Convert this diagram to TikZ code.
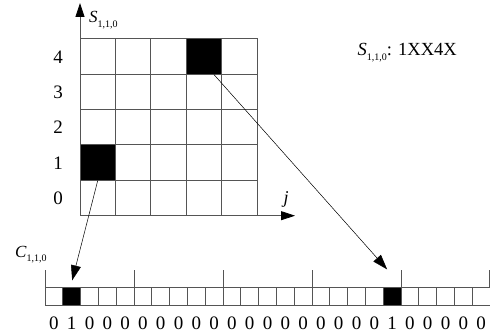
\documentclass[tikz,border=0pt]{standalone}
\usepackage{fontspec}
\setmainfont{Liberation Serif}
\usetikzlibrary{arrows.meta, positioning, calc}
\definecolor{LineGray}{HTML}{555555}

\newcommand{\idxname}[1]{\textit{#1}\raisebox{-0.55ex}{\fontsize{10}{10}\selectfont 1,1,0}}

\begin{document}
\begin{tikzpicture}[x=1pt, y=-1pt,
    cell/.style={draw=LineGray, line width=0.8pt, minimum size=35.4pt, inner sep=0pt},
    bit/.style={draw=LineGray, line width=0.7pt, minimum size=17.8pt, inner sep=0pt},
    hit/.style={fill=black},
    fat/.style={-{Triangle[length=15pt, width=10pt]}, line width=0.5pt},
    axis/.style={-{Triangle[length=14pt, width=9pt, color=black]}, line width=0.8pt, LineGray}]
    \useasboundingbox (0,0) rectangle (490,334);

    % the 5x5 grid
    \foreach \c in {0,...,4}
        \foreach \r in {0,...,4}
            \node (g\c\r) [cell] at ({80+35.4*\c+17.7}, {215.7-35.4*\r-17.7}) {};
    \node (ghi) [cell, hit] at (g34) {};
    \node (glo) [cell, hit] at (g01) {};

    \coordinate (origin) at (80,215.7);
    \draw[axis] (origin) -- (80,3);
    \draw[axis] (origin) -- (295,215.7);
    \node (ylab) [font=\fontsize{17}{17}\selectfont, anchor=base west, inner sep=0pt] at (89,23) {\idxname{S}};
    \node (xlab) [font=\fontsize{18}{18}\selectfont\itshape, anchor=base, inner sep=0pt] at (286,203) {j};

    \foreach \r in {0,...,4}
        \node (row\r) [font=\fontsize{19}{19}\selectfont, inner sep=0pt] at (58, {215.7-35.4*\r-17.2}) {\r};

    \node (code) [font=\fontsize{18.5}{18.5}\selectfont, anchor=base east, inner sep=0pt] at (457,56) {\idxname{S}: 1XX4X};

    % the bit vector
    \node (clab) [font=\fontsize{17}{17}\selectfont, anchor=base west, inner sep=0pt] at (15,257) {\idxname{C}};
    \foreach \i in {0,...,24} {
        \node (bit\i) [bit] at ({45+17.8*\i+8.9}, 296.6) {};
        \ifnum\i=1 \def\val{1}\else\ifnum\i=19 \def\val{1}\else\def\val{0}\fi\fi
        \node (dig\i) [font=\fontsize{19}{19}\selectfont, anchor=base, inner sep=0pt] at ({45+17.8*\i+8.9}, 329.5) {\val};
    }
    \node [bit, hit] at (bit1) {};
    \node [bit, hit] at (bit19) {};
    \foreach \k in {0,...,5}
        \draw[LineGray, line width=0.7pt] ({45+89*\k-(\k==5)*0.5}, 287.7) -- ++(0,-18);

    \draw[fat] (glo.south) -- ($(bit1.north)+(0.5,-7)$);
    \draw[fat] ($(ghi.south)+(10,0)$) -- ($(bit19.north)+(-5,-18)$);
\end{tikzpicture}
\end{document}
